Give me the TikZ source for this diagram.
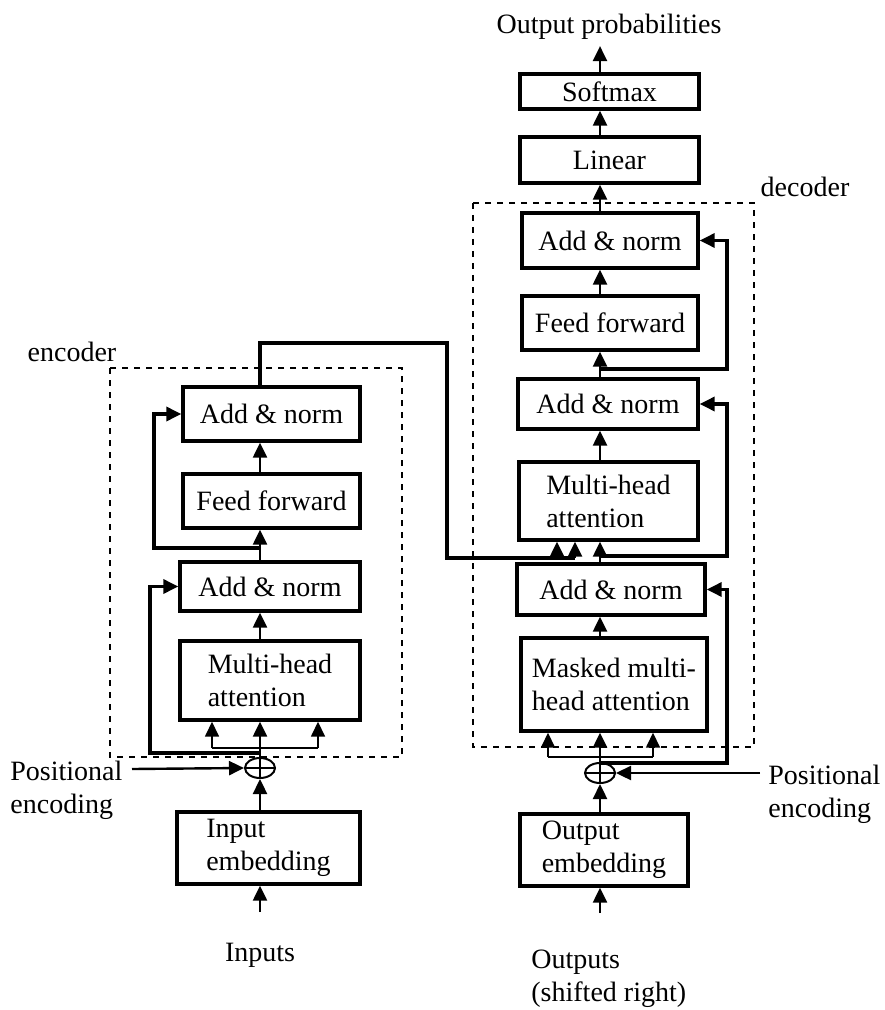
\documentclass[tikz,border=0pt]{standalone}
\usepackage{fontspec}
\setmainfont{Liberation Serif}
\usetikzlibrary{arrows.meta,shapes.geometric}
\begin{document}
\begin{tikzpicture}[x=0.5pt,y=-0.5pt]
	\tikzstyle{block} = [ draw, rectangle, line width=1.7pt, inner sep=0pt, font={\fontsize{14}{16.5}\selectfont} ];
	\tikzstyle{txt} = [ inner sep=0pt, font={\fontsize{14}{16.5}\selectfont} ];
	\tikzstyle{sum} = [ draw, ellipse, line width=1pt, minimum width=15pt, minimum height=10pt, inner sep=0pt ];
	\tikzstyle{flow} = [ -{Triangle[width=7pt,length=7.5pt]}, line width=1.2pt ];
	\tikzstyle{side} = [ -{Triangle[width=7pt,length=7.5pt]}, line width=0.8pt ];
	\tikzstyle{resid} = [ -{Triangle[width=7pt,length=7.5pt]}, line width=1.7pt ];
	\tikzstyle{branch} = [ line width=0.6pt ];
	\tikzstyle{dashbox} = [ draw, dashed, line width=0.8pt ];

	\useasboundingbox (0,0) rectangle (884,1010);

	\draw[dashbox] (110,368) rectangle (402,757);
	\draw[dashbox] (473,203) rectangle (754,747);
	\node[txt] (enc) at (72,352) {encoder};
	\node[txt] (dec) at (805,187) {decoder};

	\node[block, minimum width=88.5pt, minimum height=27pt] (eAN2) at (271.5,414) {Add \& norm};
	\node[block, minimum width=88.5pt, minimum height=27pt] (eFF) at (271.5,501) {Feed forward};
	\node[block, minimum width=90pt, minimum height=24.5pt] (eAN1) at (270,586.5) {Add \& norm};
	\node[block, minimum width=90pt, minimum height=39.5pt, align=left] (eMHA) at (270,680.5) {Multi-head\\attention};
	\node[sum] (eS) at (260,768) {};
	\node[block, minimum width=91.5pt, minimum height=36pt, align=left] (eEmb) at (268.5,848) {Input\\embedding};
	\node[txt, align=left, anchor=west] (pe1) at (10,790) {Positional\\encoding};
	\node[txt] (inp) at (260,955) {Inputs};

	\node[txt, inner ysep=3pt] (prob) at (609,27) {Output probabilities};
	\node[block, minimum width=89.5pt, minimum height=17.5pt] (soft) at (609.5,91.5) {Softmax};
	\node[block, minimum width=89.5pt, minimum height=23pt] (lin) at (609.5,160) {Linear};
	\node[block, minimum width=88pt, minimum height=27.5pt] (dAN3) at (610,240.5) {Add \& norm};
	\node[block, minimum width=88pt, minimum height=27pt] (dFF) at (610,323) {Feed forward};
	\node[block, minimum width=90pt, minimum height=25pt] (dAN2) at (608,404) {Add \& norm};
	\node[block, minimum width=89.5pt, minimum height=39pt, align=left] (dMHA) at (608.5,501) {Multi-head\\attention};
	\node[block, minimum width=94pt, minimum height=25.5pt] (dAN1) at (611,589.5) {Add \& norm};
	\node[block, minimum width=93pt, minimum height=46.5pt, align=left] (dMask) at (614,684.5) {Masked multi-\\head attention};
	\node[sum] (dS) at (600,773) {};
	\node[block, minimum width=84pt, minimum height=36pt, align=left] (dEmb) at (604,850) {Output\\embedding};
	\node[txt, align=left, anchor=west] (pe2) at (768,794) {Positional\\encoding};
	\node[txt, align=left, anchor=west] (outp) at (531,979) {Outputs\\(shifted right)};

	\foreach \s in {eS,dS} {
		\draw[line width=1pt] (\s.north) -- (\s.south) (\s.west) -- (\s.east);
	}

	\coordinate (in0) at (260,912);
	\coordinate (out0) at (600,913);
	\coordinate (pe1a) at (132,769);
	\coordinate (pe2a) at (760,773);
	\draw[flow] (in0) -- (in0 |- eEmb.south);
	\draw[flow] (out0) -- (out0 |- dEmb.south);
	\draw[flow] (eEmb.north -| eS) -- (eS.south);
	\draw[flow] (dEmb.north -| dS) -- (dS.south);
	\draw[flow] (pe1a) -- (eS.west);
	\draw[flow] (pe2a) -- (dS.east);
	\draw[flow] (eS.north) -- (eS.north |- eMHA.south);
	\draw[flow] (dS.north) -- (dS.north |- dMask.south);

	\coordinate (eBl) at (212,748);
	\coordinate (eBr) at (318,748);
	\coordinate (dBl) at (548,757);
	\coordinate (dBr) at (653,757);
	\draw[branch] (eBl) -- (eBr);
	\draw[branch] (dBl) -- (dBr);
	\draw[side] (eBl) -- (eBl |- eMHA.south);
	\draw[side] (eBr) -- (eBr |- eMHA.south);
	\draw[side] (dBl) -- (dBl |- dMask.south);
	\draw[side] (dBr) -- (dBr |- dMask.south);

	\foreach \a/\b in {eMHA/eAN1,eAN1/eFF,eFF/eAN2} {
		\draw[flow] (\a.north -| eS) -- (\b.south -| eS);
	}
	\foreach \a/\b in {dMask/dAN1,dAN1/dMHA,dMHA/dAN2,dAN2/dFF,dFF/dAN3,dAN3/lin,lin/soft,soft/prob} {
		\draw[flow] (\a.north -| dS) -- (\b.south -| dS);
	}

	\coordinate (eR1) at (150,753);
	\coordinate (eR2) at (154,548);
	\draw[resid] (eS |- eR1) -- (eR1) |- (eAN1.west);
	\draw[resid] (eS |- eR2) -- (eR2) |- (eAN2.west);

	\coordinate (dR1) at (727,763);
	\coordinate (dR2) at (727,556);
	\coordinate (dR3) at (727,369);
	\draw[resid] (dS |- dR1) -- (dR1) |- (dAN1.east);
	\draw[resid] (dS |- dR2) -- (dR2) |- (dAN2.east);
	\draw[resid] (dS |- dR3) -- (dR3) |- (dAN3.east);

	\coordinate (turn) at (447,343);
	\coordinate (kv1) at (557,558);
	\coordinate (kv2) at (575,558);
	\draw[resid, -] (eAN2.north -| eS) |- (turn) |- (kv2);
	\draw[flow] (kv1) -- (kv1 |- dMHA.south);
	\draw[flow] (kv2) -- (kv2 |- dMHA.south);
\end{tikzpicture}
\end{document}
